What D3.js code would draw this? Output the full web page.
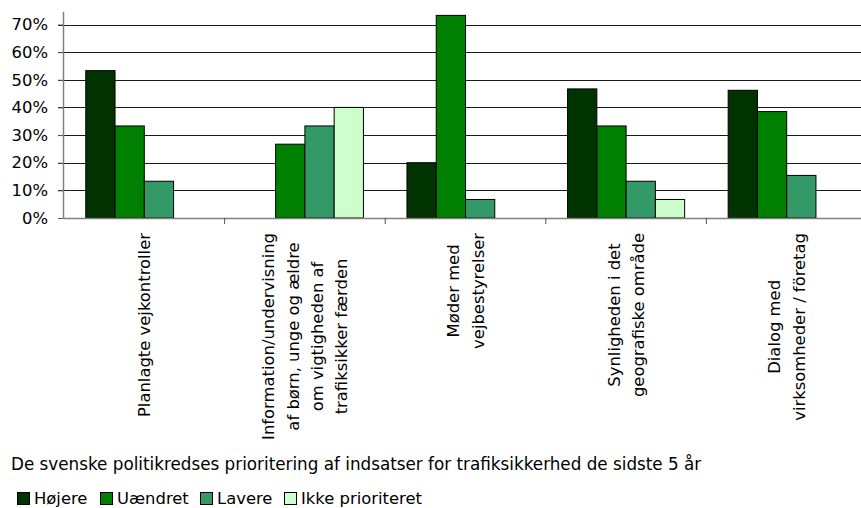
<!DOCTYPE html>
<html><head><meta charset="utf-8">
<script src="https://cdn.jsdelivr.net/npm/d3@7"></script>
<style>body{margin:0;background:#fff}svg{display:block}text{font-family:"DejaVu Sans",sans-serif;fill:#000}</style>
</head><body><svg id="c" width="861" height="508"></svg>
<script>
const categories = [
  ["Planlagte vejkontroller"],
  ["Information/undervisning","af børn, unge og ældre","om vigtigheden af","trafiksikker færden"],
  ["Møder med","vejbestyrelser"],
  ["Synligheden i det","geografiske område"],
  ["Dialog med","virksomheder / företag"]
];
const seriesNames = ["Højere","Uændret","Lavere","Ikke prioriteret"];
const seriesColors = ["#003300","#008000","#339966","#CCFFCC"];
const hojere = [53.3, 0, 20.0, 46.7, 46.2];
const uaendret = [33.3, 26.7, 73.3, 33.3, 38.5];
const lavere = [13.3, 33.3, 6.7, 13.3, 15.4];
const ikkePrioriteret = [0, 40.0, 0, 6.7, 0];
const yTicks = [0,10,20,30,40,50,60,70];
const title = "De svenske politikredses prioritering af indsatser for trafiksikkerhed de sidste 5 år";

const FS = 16.4;
const series = [hojere, uaendret, lavere, ikkePrioriteret];
const svg = d3.select("#c");
const left = 64, right = 867, bottom = 218;
const y = d3.scaleLinear().domain([0,70]).range([bottom, 24.5]);
const x0 = d3.scaleBand().domain(d3.range(categories.length)).range([left,right]).paddingInner(0).paddingOuter(0);
const x1 = d3.scaleBand().domain(d3.range(series.length)).range([0, x0.bandwidth()]).paddingInner(0).paddingOuter(0.744);

// gridlines
svg.append("g").selectAll("line").data(yTicks.filter(t=>t>0)).join("line")
  .attr("x1", left-6).attr("x2", right).attr("y1", d=>Math.round(y(d))+0.5).attr("y2", d=>Math.round(y(d))+0.5)
  .attr("stroke","#1a1a1a").attr("stroke-width",1);

// bars
series.forEach((vals,si)=>{
  svg.append("g").selectAll("rect").data(vals.map((v,i)=>({v,i}))).join("rect")
    .filter(d=>d.v>0)
    .attr("x", d=>x0(d.i)+x1(si))
    .attr("y", d=>y(d.v))
    .attr("width", x1.bandwidth())
    .attr("height", d=>bottom - y(d.v))
    .attr("fill", seriesColors[si])
    .attr("stroke","#000").attr("stroke-width",1);
});

// y axis
const yAxis = d3.axisLeft(y).tickValues(yTicks).tickFormat(d=>d+"%").tickSize(6).tickPadding(10);
const ya = svg.append("g").attr("transform",`translate(${left},0)`).call(yAxis);
ya.select(".domain").remove();
ya.selectAll("line").attr("stroke","#555");
ya.selectAll("text").attr("font-size",FS).attr("font-family",'"DejaVu Sans",sans-serif').attr("fill","#000");
svg.append("line").attr("x1",left-0.5).attr("x2",left-0.5).attr("y1",y(74.6)).attr("y2",bottom+1).attr("stroke","#808080").attr("stroke-width",1.5);

// x axis
svg.append("line").attr("x1",left).attr("x2",right).attr("y1",bottom+0.5).attr("y2",bottom+0.5).attr("stroke","#808080").attr("stroke-width",1.5);
svg.append("g").selectAll("line").data(d3.range(1,categories.length)).join("line")
  .attr("x1",d=>x0(d)).attr("x2",d=>x0(d)).attr("y1",bottom).attr("y2",bottom+6).attr("stroke","#555");

// category labels
const lineH = 24.3;
categories.forEach((lines,i)=>{
  const cx = x0(i) + x0.bandwidth()/2;
  const n = lines.length;
  const g = svg.append("g").attr("class","clab").attr("transform",`translate(${cx},233) rotate(-90)`);
  lines.forEach((t,k)=>{
    const off = (k - (n-1)/2)*lineH;
    g.append("text").attr("x",0).attr("y",off).attr("dy","0.36em")
      .attr("text-anchor","end").attr("font-size",FS).text(t);
  });
});
svg.selectAll("g.clab").each(function(){
  const texts = d3.select(this).selectAll("text").nodes();
  const widths = texts.map(t=>t.getComputedTextLength());
  const maxW = d3.max(widths);
  texts.forEach((t,k)=>{ d3.select(t).attr("x", -(maxW-widths[k])/2); });
});

// title
svg.append("text").attr("x",11).attr("y",470).attr("font-size",16.8).text(title);

// legend
const legX = [17,100,200,284];
seriesNames.forEach((n,i)=>{
  svg.append("rect").attr("x",legX[i]+0.5).attr("y",492.5).attr("width",12).attr("height",12)
    .attr("fill",seriesColors[i]).attr("stroke","#000");
  svg.append("text").attr("x",legX[i]+17).attr("y",504).attr("font-size",FS).text(n);
});
</script></body></html>
